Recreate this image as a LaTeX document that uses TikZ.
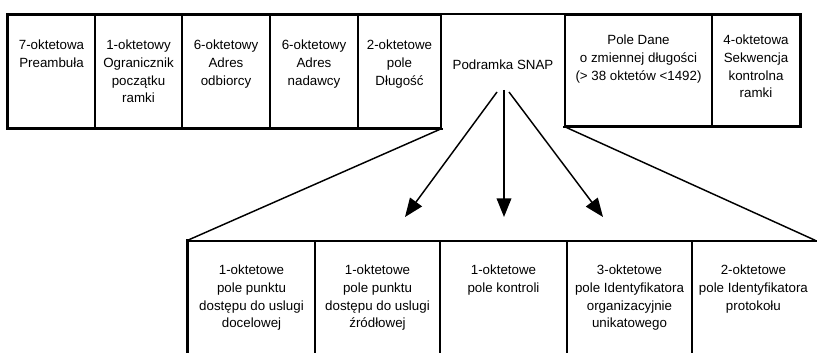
\documentclass[tikz,border=0pt]{standalone}
\usepackage{fontspec}
\setmainfont{Liberation Sans}
\usetikzlibrary{arrows.meta,fit,calc}
\begin{document}
\begin{tikzpicture}[x=0.75pt,y=-0.75pt,
  cell/.style={draw, line width=0.9pt, inner sep=0pt},
  hollow/.style={inner sep=0pt},
  lbl/.style={anchor=north, align=center, inner sep=0pt,
              font=\fontsize{10}{13.4}\selectfont},
  rim/.style={line width=1.6pt, line cap=rect},
  link/.style={line width=1.1pt},
  pointer/.style={line width=1.1pt, -{Triangle[length=14pt,width=11pt]}}]
\clip (0,0) rectangle (817,353);
\fill[white] (0,0) rectangle (817,353);

% Ethernet frame fields
\node[cell, fit={(8,15) (95,128)}]    (pre)  {};
\node[cell, fit={(95,15) (182,128)}]  (sfd)  {};
\node[cell, fit={(182,15) (270,128)}] (dst)  {};
\node[cell, fit={(270,15) (358,128)}] (src)  {};
\node[cell, fit={(358,15) (441,128)}] (len)  {};
\node[hollow, fit={(441,15) (565,126)}] (snap) {};
\node[cell, fit={(565,15) (712,126)}] (data) {};
\node[cell, fit={(712,15) (800,126)}] (fcs)  {};
\draw[cell] (snap.north west) -- (snap.north east);
\draw[rim] (pre.south west) -- (pre.north west) -- (fcs.north east)
           -- (fcs.south east) -- (data.south west);
\draw[rim] (pre.south west) -- (len.south east);

\node[lbl] (t-pre)  at ($(pre.north)+(0,25)$)  {7-oktetowa\\Preambuła};
\node[lbl] (t-sfd)  at ($(sfd.north)+(0,25)$)  {1-oktetowy\\Ogranicznik\\początku\\ramki};
\node[lbl] (t-dst)  at ($(dst.north)+(0,25)$)  {6-oktetowy\\Adres\\odbiorcy};
\node[lbl] (t-src)  at ($(src.north)+(0,25)$)  {6-oktetowy\\Adres\\nadawcy};
\node[lbl] (t-len)  at ($(len.north)+(0,25)$)  {2-oktetowe\\pole\\Długość};
\node[lbl] (t-snap) at ($(snap.north)+(0,45)$) {Podramka SNAP};
\node[lbl] (t-data) at ($(data.north)+(0,20)$) {Pole Dane\\o zmiennej długości\\(> 38 oktetów <1492)};
\node[lbl] (t-fcs)  at ($(fcs.north)+(0,20)$)  {4-oktetowa\\Sekwencja\\kontrolna\\ramki};

% SNAP subframe fields
\node[cell, fit={(188,241) (315,365)}] (dsap) {};
\node[cell, fit={(315,241) (440,365)}] (ssap) {};
\node[cell, fit={(440,241) (567,365)}] (ctrl) {};
\node[cell, fit={(567,241) (692,365)}] (oui)  {};
\node[cell, fit={(692,241) (830,365)}] (pid)  {};
\draw[rim] (dsap.south west) -- (dsap.north west);
\coordinate (fanR) at ($(pid.north west)+(124,0)$);

\node[lbl] (t-dsap) at ($(dsap.north)+(0,24)$) {1-oktetowe\\pole punktu\\dostępu do uslugi\\docelowej};
\node[lbl] (t-ssap) at ($(ssap.north)+(0,24)$) {1-oktetowe\\pole punktu\\dostępu do uslugi\\źródłowej};
\node[lbl] (t-ctrl) at ($(ctrl.north)+(0,24)$) {1-oktetowe\\pole kontroli};
\node[lbl] (t-oui)  at ($(oui.north)+(0,24)$)  {3-oktetowe\\pole Identyfikatora\\organizacyjnie\\unikatowego};
\node[lbl] (t-pid)  at ($(pid.north west)+(62,24)$) {2-oktetowe\\pole Identyfikatora\\protokołu};

% expansion lines
\draw[link] (len.south east) -- (dsap.north west);
\draw[link] (data.south west) -- (fanR);

% arrows out of the SNAP subframe
\coordinate (o1) at (497,92);
\coordinate (o2) at (504,90);
\coordinate (o3) at (509,92);
\coordinate (h1) at (405,217);
\coordinate (h2) at (504,217);
\coordinate (h3) at (603,217);
\draw[pointer] (o1) -- (h1);
\draw[pointer] (o2) -- (h2);
\draw[pointer] (o3) -- (h3);
\end{tikzpicture}
\end{document}
